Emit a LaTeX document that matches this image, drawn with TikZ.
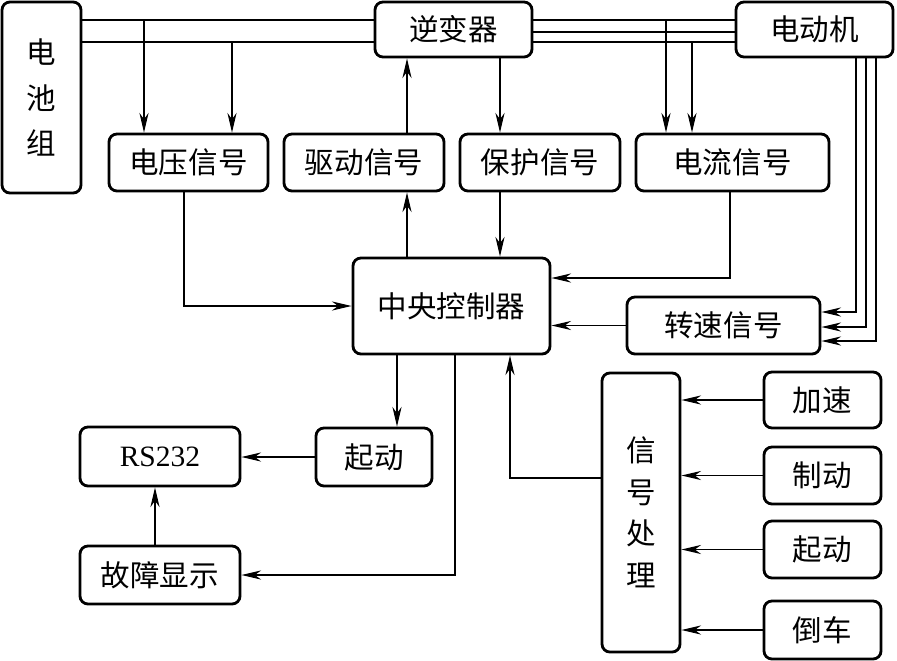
\documentclass[tikz,border=0pt]{standalone}
\usepackage{fontspec}
\setmainfont{Liberation Serif}
\newfontfamily\cjk{Noto Sans CJK SC}
\usetikzlibrary{arrows.meta}
\tikzset{
    %Define standard arrow tip
    >={Stealth[length=14pt,width=6.5pt,inset=4.5pt]},
    %Define style for boxes
    blk/.style={
           draw,
           line width=2pt,
           rounded corners=0.2cm,
           inner sep=0pt,
           align=center,
           font=\cjk\fontsize{21}{25}\selectfont,},
    %Define style for arrows
    pil/.style={
           ->,
           line width=0.9pt,},
    %Define style for plain lines
    bus/.style={
           line width=0.9pt,}
}

\begin{document}
\begin{tikzpicture}[x=0.025cm, y=-0.025cm]
 \useasboundingbox (0,0) rectangle (897,660);
 %nodes
 \node[blk, minimum width=1.975cm, minimum height=4.775cm, font=\cjk\fontsize{21}{32.5}\selectfont] (bat) at (41.5,97.5) {电\\池\\组};
 \node[blk, minimum width=3.925cm, minimum height=1.375cm] (inv) at (453.5,29.5) {逆变器};
 \node[blk, minimum width=3.925cm, minimum height=1.375cm] (mot) at (814.5,29.5) {电动机};
 \node[blk, minimum width=3.975cm, minimum height=1.425cm] (vsig) at (188.5,162.5) {电压信号};
 \node[blk, minimum width=4cm, minimum height=1.425cm] (dsig) at (364,162.5) {驱动信号};
 \node[blk, minimum width=4cm, minimum height=1.425cm] (psig) at (540,162.5) {保护信号};
 \node[blk, minimum width=4.825cm, minimum height=1.425cm] (isig) at (732.5,162.5) {电流信号};
 \node[blk, minimum width=4.925cm, minimum height=2.4cm] (ctrl) at (451.5,306) {中央控制器};
 \node[blk, minimum width=4.825cm, minimum height=1.425cm] (ssig) at (723.5,325.5) {转速信号};
 \node[blk, minimum width=2.9cm, minimum height=1.45cm] (start) at (374,457) {起动};
 \node[blk, minimum width=4cm, minimum height=1.475cm, font=\fontsize{21}{25}\selectfont] (rs) at (160,456.5) {RS232};
 \node[blk, minimum width=4cm, minimum height=1.45cm] (fault) at (160,575) {故障显示};
 \node[blk, minimum width=1.95cm, minimum height=6.975cm, font=\cjk\fontsize{21}{29.5}\selectfont] (proc) at (641,512.5) {信\\号\\处\\理};
 \node[blk, minimum width=2.925cm, minimum height=1.4cm] (acc) at (822.5,400) {加速};
 \node[blk, minimum width=2.925cm, minimum height=1.425cm] (brk) at (822.5,475.5) {制动};
 \node[blk, minimum width=2.925cm, minimum height=1.425cm] (st) at (822.5,549.5) {起动};
 \node[blk, minimum width=2.925cm, minimum height=1.45cm] (rev) at (822.5,630) {倒车};

 %power lines
 \draw[bus] (bat.east |- 0,20) -- (inv.west |- 0,20);
 \draw[bus] (bat.east |- 0,42) -- (inv.west |- 0,42);
 \foreach \y in {20,32,42}
   \draw[bus] (inv.east |- 0,\y) -- (mot.west |- 0,\y);

 %taps
 \coordinate (tv1) at (144,20);
 \coordinate (tv2) at (232,42);
 \coordinate (ti1) at (666,20);
 \coordinate (ti2) at (692,42);
 \draw[pil] (tv1) -- (tv1 |- vsig.north);
 \draw[pil] (tv2) -- (tv2 |- vsig.north);
 \draw[pil] (ti1) -- (ti1 |- isig.north);
 \draw[pil] (ti2) -- (ti2 |- isig.north);

 %signals
 \draw[pil] (dsig.north -| 407,0) -- (inv.south -| 407,0);
 \draw[pil] (inv.south -| 500,0) -- (psig.north -| 500,0);
 \draw[pil] (ctrl.north -| 407,0) -- (dsig.south -| 407,0);
 \draw[pil] (psig.south -| 500,0) -- (ctrl.north -| 500,0);
 \draw[pil] (vsig.south -| 184,0) |- (ctrl.west);
 \draw[pil] (isig.south -| 730,0) |- (ctrl.east |- 0,278);
 \draw[pil] (ssig.west) -- (ctrl.east |- ssig.west);
 \foreach \mx/\my in {856/312,866/327,876/341}
   \draw[pil] (mot.south -| \mx,0) |- (ssig.east |- 0,\my);

 %outputs
 \draw[pil] (ctrl.south -| 397,0) -- (start.north -| 397,0);
 \draw[pil] (start.west) -- (rs.east |- start.west);
 \draw[pil] (fault.north -| 155,0) -- (rs.south -| 155,0);
 \draw[pil] (ctrl.south -| 455,0) |- (fault.east);
 \draw[pil] (proc.west |- 0,478) -| (ctrl.south -| 510,0);
 \foreach \n in {acc,brk,st,rev}
   \draw[pil] (\n.west) -- (proc.east |- \n.west);

\end{tikzpicture}
\end{document}
